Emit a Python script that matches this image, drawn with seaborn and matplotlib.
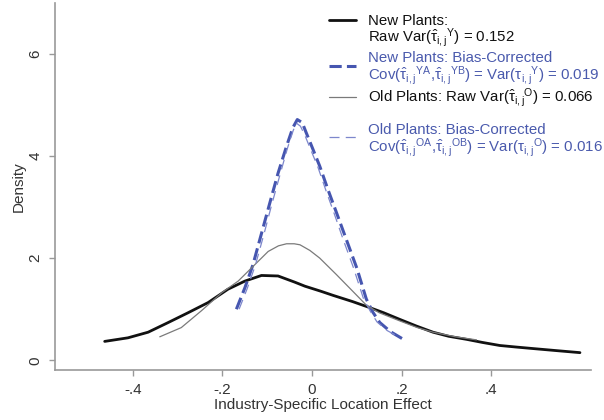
import matplotlib
matplotlib.use('Agg')
import matplotlib.pyplot as plt
from matplotlib.lines import Line2D
import seaborn as sns

# density curves
new_raw_x = [-0.463, -0.411, -0.366, -0.321, -0.277, -0.232, -0.188, -0.150, -0.113, -0.076,
             -0.039, -0.016, 0.020, 0.047, 0.090, 0.129, 0.160, 0.196, 0.233, 0.270, 0.305,
             0.345, 0.380, 0.419, 0.455, 0.493, 0.545, 0.598]
new_raw_y = [0.37, 0.44, 0.55, 0.74, 0.93, 1.13, 1.39, 1.55, 1.66, 1.65,
             1.53, 1.45, 1.35, 1.27, 1.15, 1.03, 0.93, 0.80, 0.67, 0.55, 0.47,
             0.41, 0.35, 0.29, 0.26, 0.23, 0.19, 0.15]

new_bc_x = [-0.169, -0.150, -0.132, -0.113, -0.094, -0.076, -0.057, -0.043, -0.033, -0.022,
            -0.013, 0.000, 0.017, 0.035, 0.054, 0.077, 0.100, 0.121, 0.135, 0.151, 0.175, 0.202]
new_bc_y = [1.00, 1.42, 1.87, 2.48, 3.09, 3.66, 4.19, 4.55, 4.71, 4.65,
            4.45, 4.17, 3.80, 3.35, 2.90, 2.35, 1.80, 1.20, 0.95, 0.74, 0.56, 0.42]

old_raw_x = [-0.340, -0.292, -0.247, -0.202, -0.165, -0.128, -0.098, -0.075, -0.057, -0.040,
             -0.027, -0.005, 0.017, 0.054, 0.092, 0.121, 0.150, 0.196, 0.235, 0.270, 0.320, 0.367]
old_raw_y = [0.46, 0.64, 0.97, 1.32, 1.55, 1.87, 2.13, 2.24, 2.28, 2.28,
             2.26, 2.15, 2.00, 1.68, 1.34, 1.08, 0.93, 0.77, 0.64, 0.55, 0.46, 0.40]

old_bc_x = [-0.163, -0.145, -0.127, -0.108, -0.090, -0.072, -0.055, -0.042, -0.035, -0.026,
            -0.016, -0.003, 0.013, 0.031, 0.049, 0.070, 0.092, 0.115, 0.130, 0.145, 0.168, 0.195]
old_bc_y = [1.00, 1.40, 1.85, 2.45, 3.05, 3.62, 4.15, 4.50, 4.64, 4.58,
            4.40, 4.12, 3.78, 3.32, 2.88, 2.35, 1.82, 1.20, 0.96, 0.75, 0.58, 0.45]

# legend entries, one list of text lines per curve
labels = [
    ['New Plants:', 'Raw Var($\\hat{\\tau}_{i,j}{}^{Y}$) = 0.152'],
    ['New Plants: Bias-Corrected',
     'Cov($\\hat{\\tau}_{i,j}{}^{YA}$,$\\hat{\\tau}_{i,j}{}^{YB}$) = Var($\\tau_{i,j}{}^{Y}$) = 0.019'],
    ['Old Plants: Raw Var($\\hat{\\tau}_{i,j}{}^{O}$) = 0.066'],
    ['Old Plants: Bias-Corrected',
     'Cov($\\hat{\\tau}_{i,j}{}^{OA}$,$\\hat{\\tau}_{i,j}{}^{OB}$) = Var($\\tau_{i,j}{}^{O}$) = 0.016'],
]
xticks = [-0.4, -0.2, 0, 0.2, 0.4]
xticklabels = ['-.4', '-.2', '0', '.2', '.4']
yticks = [0, 2, 4, 6]

blue = '#4656b0'
blue_light = '#7d87cc'
blue_text = '#4a5aad'

sns.set_theme(style='white')
plt.rcParams['font.family'] = ['Liberation Sans', 'DejaVu Sans']
plt.rcParams['mathtext.fontset'] = 'custom'
plt.rcParams['mathtext.rm'] = 'Liberation Sans'
plt.rcParams['mathtext.it'] = 'Liberation Sans:italic'
plt.rcParams['mathtext.default'] = 'regular'

W, H = 604, 420
fig = plt.figure(figsize=(W / 100, H / 100), dpi=100)
ax = fig.add_axes([0.091, 0.119, 0.887, 0.875])

sns.lineplot(x=new_raw_x, y=new_raw_y, sort=False, color='#111111', lw=2.0, ax=ax)
sns.lineplot(x=new_bc_x, y=new_bc_y, sort=False, color=blue, lw=2.2, ax=ax)
ax.lines[-1].set_dashes((4, 1.7))
sns.lineplot(x=old_raw_x, y=old_raw_y, sort=False, color='#7a7a7a', lw=0.9, ax=ax)
sns.lineplot(x=old_bc_x, y=old_bc_y, sort=False, color=blue_light, lw=0.9, ax=ax)
ax.lines[-1].set_dashes((8, 5))
for ln in ax.lines:
    ln.set_solid_joinstyle('round')
    ln.set_dash_joinstyle('round')

ax.set_xlim(-0.574, 0.622)
ax.set_ylim(-0.19, 7.0)
ax.set_xticks(xticks)
ax.set_xticklabels(xticklabels)
ax.set_yticks(yticks)
ax.set_yticklabels([str(v) for v in yticks], rotation=90, va='center')
ax.tick_params(axis='both', which='both', direction='out', length=4, width=1,
               color='#999999', labelsize=11, labelcolor='#333333', pad=5)
ax.tick_params(left=True, bottom=True)

for s in ['top', 'right']:
    ax.spines[s].set_visible(False)
for s in ['left', 'bottom']:
    ax.spines[s].set_color('#999999')
    ax.spines[s].set_linewidth(1.2)

ax.set_xlabel('Industry-Specific Location Effect', fontsize=11, color='#333333', labelpad=1)
ax.set_ylabel('Density', fontsize=11, color='#333333', labelpad=2)

# hand-built legend so the handles sit by the first text line as in the original
handle_y = [20, 65.5, 96.5, 136.5]
line_baselines = [[25, 42], [62.5, 79.5], [101.7], [134.5, 151.5]]
text_colors = ['#111111', blue_text, '#111111', blue_text]
for src, hy, bases, lines, col in zip(ax.lines[:4], handle_y, line_baselines, labels, text_colors):
    h = Line2D([329 / W, 356 / W], [1 - hy / H, 1 - hy / H], transform=fig.transFigure,
               color=src.get_color(), lw=src.get_linewidth())
    if src.get_linestyle() not in ('-', 'solid'):
        h.set_dashes(src._unscaled_dash_pattern[1])
    fig.add_artist(h)
    for b, s in zip(bases, lines):
        fig.text(368 / W, 1 - b / H, s, color=col, fontsize=10.8, ha='left', va='baseline')

fig.savefig('out.png', dpi=100)
